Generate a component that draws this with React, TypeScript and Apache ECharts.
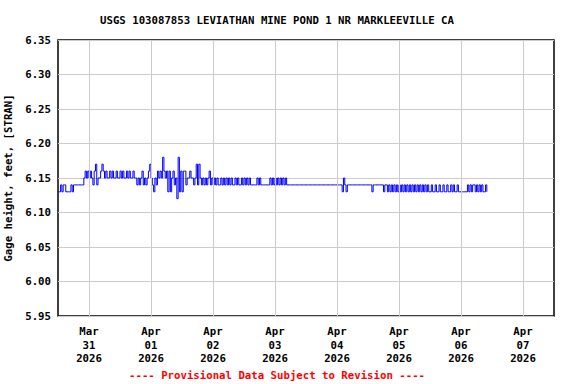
import React, { useEffect, useRef } from "react";
import * as echarts from "echarts";

const TITLE = "USGS 103087853 LEVIATHAN MINE POND 1 NR MARKLEEVILLE CA";
const FOOTER = "---- Provisional Data Subject to Revision ----";
const Y_NAME = "Gage height, feet, [STRAN]";

// Day tick labels (hours from Mar 31 00:00 -> label)
const DAY_HOURS = [0, 24, 48, 72, 96, 120, 144, 168];
const DAY_LABELS = [
  "Mar\n31\n2026",
  "Apr\n01\n2026",
  "Apr\n02\n2026",
  "Apr\n03\n2026",
  "Apr\n04\n2026",
  "Apr\n05\n2026",
  "Apr\n06\n2026",
  "Apr\n07\n2026",
];

// Gage height readings, every 30 minutes, starting Mar 30 12:00
const mar30 = [
  6.13, 6.13, 6.14, 6.13, 6.14, 6.14, 6.13, 6.13, 6.13, 6.13, 6.14, 6.13,
  6.14, 6.14, 6.14, 6.14, 6.14, 6.14, 6.14, 6.14, 6.15, 6.16, 6.15, 6.16,
];
const mar31 = [
  6.15, 6.16, 6.15, 6.14, 6.16, 6.17, 6.14, 6.15, 6.15, 6.16, 6.17, 6.16,
  6.15, 6.16, 6.15, 6.15, 6.16, 6.15, 6.16, 6.15, 6.15, 6.16, 6.15, 6.15,
  6.16, 6.15, 6.16, 6.15, 6.15, 6.16, 6.15, 6.16, 6.15, 6.15, 6.16, 6.15,
  6.15, 6.14, 6.15, 6.14, 6.15, 6.16, 6.14, 6.15, 6.14, 6.15, 6.16, 6.17,
];
const apr01 = [
  6.15, 6.14, 6.13, 6.15, 6.14, 6.16, 6.15, 6.16, 6.15, 6.18, 6.16, 6.15,
  6.16, 6.13, 6.16, 6.13, 6.15, 6.16, 6.14, 6.15, 6.12, 6.18, 6.13, 6.16,
  6.13, 6.16, 6.16, 6.14, 6.15, 6.15, 6.16, 6.15, 6.15, 6.14, 6.15, 6.17,
  6.14, 6.17, 6.15, 6.14, 6.15, 6.14, 6.15, 6.14, 6.15, 6.16, 6.14, 6.15,
];
const apr02 = [
  6.14, 6.15, 6.14, 6.15, 6.14, 6.14, 6.15, 6.14, 6.15, 6.14, 6.15, 6.14,
  6.15, 6.14, 6.15, 6.14, 6.14, 6.15, 6.14, 6.15, 6.14, 6.14, 6.15, 6.14,
  6.15, 6.14, 6.15, 6.14, 6.15, 6.14, 6.14, 6.14, 6.14, 6.14, 6.15, 6.14,
  6.15, 6.14, 6.14, 6.14, 6.14, 6.14, 6.14, 6.14, 6.15, 6.14, 6.15, 6.14,
];
const apr03 = [
  6.15, 6.14, 6.15, 6.14, 6.15, 6.14, 6.15, 6.14, 6.15, 6.14, 6.14, 6.14,
  6.14, 6.14, 6.14, 6.14, 6.14, 6.14, 6.14, 6.14, 6.14, 6.14, 6.14, 6.14,
  6.14, 6.14, 6.14, 6.14, 6.14, 6.14, 6.14, 6.14, 6.14, 6.14, 6.14, 6.14,
  6.14, 6.14, 6.14, 6.14, 6.14, 6.14, 6.14, 6.14, 6.14, 6.14, 6.14, 6.14,
];
const apr04 = [
  6.14, 6.14, 6.14, 6.14, 6.13, 6.15, 6.14, 6.13, 6.14, 6.14, 6.14, 6.14,
  6.14, 6.14, 6.14, 6.14, 6.14, 6.14, 6.14, 6.14, 6.14, 6.14, 6.14, 6.14,
  6.14, 6.14, 6.14, 6.13, 6.14, 6.14, 6.14, 6.14, 6.14, 6.14, 6.14, 6.14,
  6.13, 6.14, 6.14, 6.13, 6.14, 6.13, 6.14, 6.13, 6.14, 6.13, 6.14, 6.13,
];
const apr05 = [
  6.14, 6.13, 6.14, 6.13, 6.14, 6.13, 6.14, 6.13, 6.14, 6.13, 6.14, 6.13,
  6.14, 6.13, 6.14, 6.13, 6.14, 6.13, 6.14, 6.13, 6.14, 6.13, 6.14, 6.13,
  6.13, 6.14, 6.13, 6.13, 6.14, 6.13, 6.13, 6.14, 6.13, 6.13, 6.14, 6.13,
  6.13, 6.14, 6.13, 6.13, 6.14, 6.13, 6.14, 6.13, 6.13, 6.14, 6.13, 6.13,
];
const apr06 = [
  6.13, 6.13, 6.13, 6.13, 6.13, 6.14, 6.13, 6.14, 6.13, 6.14, 6.14, 6.13,
  6.14, 6.13, 6.14, 6.13, 6.14, 6.13, 6.13, 6.14, 6.13,
];

const START_HOUR = -12; // Mar 30 12:00 relative to Mar 31 00:00
const STEP_HOURS = 0.5;

const FONT = "'DejaVu Sans Mono', 'Liberation Mono', monospace";
const FS = 10.7;

export default function App() {
  const ref = useRef<HTMLDivElement>(null);

  useEffect(() => {
    if (!ref.current) return;
    const chart = echarts.init(ref.current, null, { renderer: "svg" });
    const values = [
      ...mar30,
      ...mar31,
      ...apr01,
      ...apr02,
      ...apr03,
      ...apr04,
      ...apr05,
      ...apr06,
    ];
    const data = values.map((v, i) => [START_HOUR + i * STEP_HOURS, v]);

    chart.setOption({
      animation: false,
      backgroundColor: "#ffffff",
      grid: {
        left: 58,
        right: 22,
        top: 40,
        bottom: 68,
        show: true,
        containLabel: false,
        outerBoundsMode: "none",
        borderColor: "#000000",
        borderWidth: 1.5,
        backgroundColor: "transparent",
      },
      xAxis: {
        type: "value",
        min: -12,
        max: 180,
        interval: 12,
        axisLine: { show: false },
        axisTick: { show: false },
        splitLine: { show: false },
        axisLabel: {
          margin: 9,
          color: "#000",
          fontFamily: FONT,
          fontWeight: "bold",
          fontSize: FS,
          lineHeight: 13.5,
          formatter: (v: number) => {
            const idx = DAY_HOURS.indexOf(Math.round(v));
            return idx >= 0 ? DAY_LABELS[idx] : "";
          },
        },
      },
      yAxis: {
        type: "value",
        min: 5.95,
        max: 6.35,
        interval: 0.05,
        name: Y_NAME,
        nameLocation: "middle",
        nameGap: 38,
        nameRotate: 90,
        nameTextStyle: {
          color: "#000",
          fontFamily: FONT,
          fontWeight: "bold",
          fontSize: FS,
        },
        axisLine: { show: false },
        axisTick: { show: false },
        splitLine: { show: true, lineStyle: { color: "#cccccc", width: 1 } },
        axisLabel: {
          margin: 7,
          color: "#000",
          fontFamily: FONT,
          fontWeight: "bold",
          fontSize: FS,
          formatter: (v: number) => v.toFixed(2),
        },
      },
      graphic: [
        {
          type: "text",
          x: 277,
          y: 20,
          style: {
            text: TITLE,
            fill: "#000",
            font: `bold ${FS}px ${FONT}`,
            textAlign: "center",
            textVerticalAlign: "middle",
          },
        },
        {
          type: "text",
          x: 277,
          y: 375,
          style: {
            text: FOOTER,
            fill: "#ff0000",
            font: `bold ${FS}px ${FONT}`,
            textAlign: "center",
            textVerticalAlign: "middle",
          },
        },
      ],
      series: [
        {
          type: "line",
          data: [],
          z: 1,
          silent: true,
          markLine: {
            silent: true,
            symbol: "none",
            label: { show: false },
            lineStyle: { color: "#cccccc", width: 1, type: "solid" },
            data: DAY_HOURS.map((h) => ({ xAxis: h })),
          },
        },
        {
          type: "line",
          data,
          z: 3,
          step: "end",
          showSymbol: false,
          symbol: "none",
          lineStyle: { color: "#0000ff", width: 1 },
        },
      ],
    });

    return () => chart.dispose();
  }, []);

  return (
    <div
      ref={ref}
      style={{
        position: "fixed",
        left: 0,
        top: 0,
        width: 576,
        height: 384,
        background: "#fff",
      }}
    />
  );
}
